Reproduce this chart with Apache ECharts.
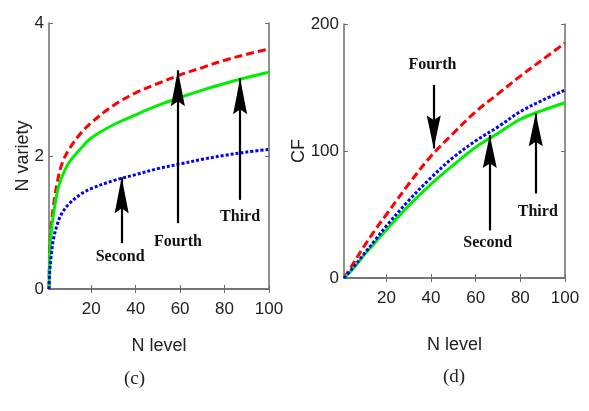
<!DOCTYPE html>
<html>
<head>
<meta charset="utf-8">
<script src="https://cdn.jsdelivr.net/npm/echarts@6/dist/echarts.min.js"></script>
<style>
  html, body { margin: 0; padding: 0; background: #fff; }
  #chart { width: 589px; height: 411px; }
</style>
</head>
<body>
<div id="chart"></div>
<script>
// (c) N variety vs N level
var levelC  = [1, 1.3, 2, 3, 5, 7, 10, 15, 20, 30, 40, 50, 60, 70, 80, 90, 100];
var fourthC = [0, 0.55, 0.95, 1.25, 1.65, 1.9, 2.1, 2.33, 2.5, 2.76, 2.95, 3.09, 3.22, 3.33, 3.44, 3.53, 3.61];
var thirdC  = [0, 0.45, 0.85, 1.12, 1.5, 1.7, 1.9, 2.1, 2.27, 2.47, 2.62, 2.76, 2.88, 2.99, 3.09, 3.18, 3.26];
var secondC = [0, 0.25, 0.5, 0.75, 1.0, 1.15, 1.28, 1.42, 1.51, 1.63, 1.72, 1.81, 1.88, 1.95, 2.01, 2.06, 2.1];

// (d) CF vs N level
var levelD  = [1, 5, 10, 15, 20, 30, 40, 50, 60, 70, 80, 90, 100];
var fourthD = [0, 11, 25, 38, 50, 74, 96, 114, 131, 145, 159, 172, 185];
var secondD = [0, 8, 19, 30, 41, 61, 79, 95, 108, 119, 131, 140, 148];
var thirdD  = [0, 7, 18, 28, 38, 57, 74, 89, 103, 114, 125, 132, 138];

var xTicks = [20, 40, 60, 80, 100];

// arrows: [label, x, tail, tip, labelX, labelY]
var notesC = [['Second', 33.7, 0.69, 1.68, 33, 0.48], ['Fourth', 59, 0.99, 3.29, 59, 0.71], ['Third', 87, 1.34, 3.17, 87, 1.08]];
var notesD = [['Fourth', 41.2, 152, 102, 40.6, 168], ['Second', 66.3, 37.5, 112.6, 65.4, 27.3], ['Third', 86.9, 66.6, 129.7, 87.8, 52]];

var sans = "'Liberation Sans', Arial, sans-serif";
var serif = "'Liberation Serif', 'Times New Roman', serif";
var axisGray = '#6d6d6d';
var headPath = 'path://M0,0 L7,36 L0,31 L-7,36 Z';

var myChart = echarts.init(document.getElementById('chart'));

function pairs(x, y) {
  return x.map(function (v, i) { return [v, y[i]]; });
}

function curve(x, y, color, dash, g) {
  return {
    type: 'line', xAxisIndex: g * 2, yAxisIndex: g * 2,
    data: pairs(x, y), showSymbol: false, smooth: 0.35,
    lineStyle: { color: color, width: 3, type: dash },
    z: 3
  };
}

// a blank series that only carries the arrows and their labels
function notes(list, g, headH) {
  var shafts = [], heads = [];
  list.forEach(function (n) {
    var up = n[3] > n[2];
    shafts.push([{ coord: [n[1], n[2]] }, { coord: [n[1], n[3] + (up ? -0.001 : 0.001)] }]);
    heads.push({
      coord: [n[1], n[3]], symbol: headPath, symbolSize: [14, headH],
      symbolRotate: up ? 0 : 180, symbolOffset: [0, up ? headH / 2 : -headH / 2],
      itemStyle: { color: '#000' }, label: { show: false }
    });
    heads.push({
      coord: [n[4], n[5]], symbol: 'circle', symbolSize: 1,
      itemStyle: { color: 'rgba(0,0,0,0)' },
      label: {
        show: true, position: 'inside', formatter: n[0], color: '#111',
        fontFamily: serif, fontWeight: 'bold', fontSize: 16
      }
    });
  });
  return {
    type: 'line', xAxisIndex: g * 2, yAxisIndex: g * 2, data: [], z: 5,
    markLine: { silent: true, symbol: 'none', label: { show: false }, lineStyle: { color: '#000', width: 2.2, type: 'solid' }, data: shafts },
    markPoint: { silent: true, data: heads }
  };
}

function xAxes(g, name, gap) {
  var base = { type: 'value', gridIndex: g, min: 1, max: 100, splitLine: { show: false },
    axisLine: { lineStyle: { color: axisGray, width: 1.5 } } };
  return [
    Object.assign({}, base, {
      position: 'bottom', name: name, nameLocation: 'middle', nameGap: gap, nameMoveOverlap: false,
      nameTextStyle: { fontFamily: sans, fontSize: 18, color: '#222' },
      axisTick: { inside: true, length: 4, customValues: xTicks, lineStyle: { color: axisGray } },
      axisLabel: { customValues: xTicks, margin: 12, fontFamily: sans, fontSize: 17, color: '#222' }
    }),
    Object.assign({}, base, {
      position: 'top',
      axisTick: { inside: true, length: 4, customValues: xTicks, lineStyle: { color: axisGray } },
      axisLabel: { show: false }
    })
  ];
}

function yAxes(g, max, step, name, gap) {
  var base = { type: 'value', gridIndex: g, min: 0, max: max, interval: step, splitLine: { show: false },
    axisLine: { show: true, lineStyle: { color: axisGray, width: 1.5 } },
    axisTick: { show: true, inside: true, length: 4, lineStyle: { color: axisGray } } };
  return [
    Object.assign({}, base, {
      position: 'left', name: name, nameLocation: 'middle', nameGap: gap, nameRotate: 90, nameMoveOverlap: false,
      nameTextStyle: { fontFamily: sans, fontSize: 18, color: '#222' },
      axisLabel: { margin: 5, fontFamily: sans, fontSize: 17, color: '#222' }
    }),
    Object.assign({}, base, { position: 'right', axisLabel: { show: false } })
  ];
}

var option = {
  backgroundColor: '#fff',
  animation: false,
  title: [
    { text: '(c)', left: 119, top: 365, textStyle: { fontFamily: serif, fontWeight: 'normal', fontSize: 19, color: '#222' } },
    { text: '(d)', left: 438, top: 363, textStyle: { fontFamily: serif, fontWeight: 'normal', fontSize: 19, color: '#222' } }
  ],
  grid: [
    { left: 49, top: 23, right: 320, bottom: 122 },
    { left: 344, top: 24, right: 24, bottom: 133 }
  ],
  xAxis: xAxes(0, 'N level', 48).concat(xAxes(1, 'N level', 58)),
  yAxis: yAxes(0, 4, 2, 'N variety', 17).concat(yAxes(1, 200, 100, 'CF', 36)),
  series: [
    curve(levelC, fourthC, '#ff0000', [8, 4], 0),
    curve(levelC, thirdC, '#00ee00', 'solid', 0),
    curve(levelC, secondC, '#0000ff', [3, 2], 0),
    notes(notesC, 0, 36),
    curve(levelD, fourthD, '#ff0000', [8, 4], 1),
    curve(levelD, thirdD, '#00ee00', 'solid', 1),
    curve(levelD, secondD, '#0000ff', [3, 2], 1),
    notes(notesD, 1, 33)
  ]
};

myChart.setOption(option);
</script>
</body>
</html>
